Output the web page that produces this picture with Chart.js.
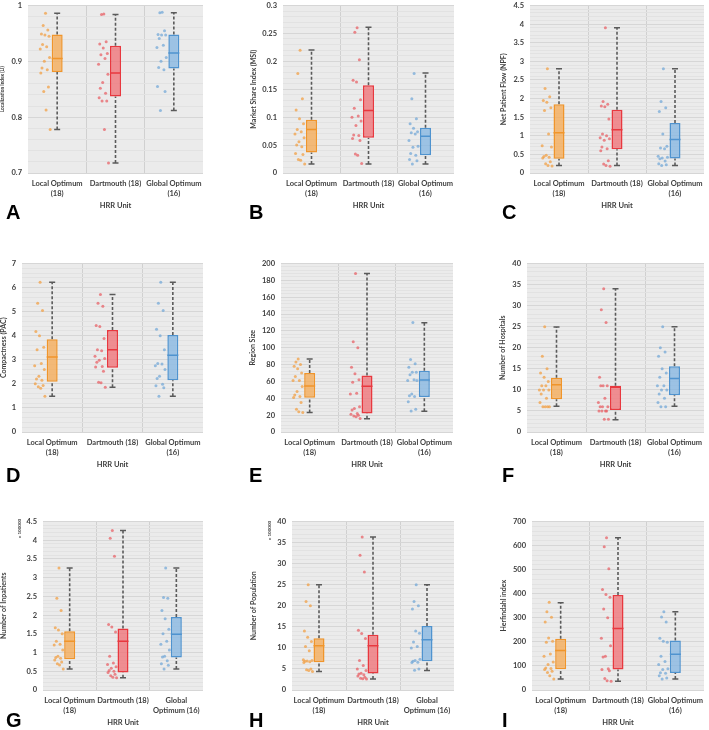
<!DOCTYPE html>
<html>
<head>
<meta charset="utf-8">
<script src="https://cdn.jsdelivr.net/npm/chart.js@4"></script>
<style>
body { margin:0; width:709px; height:730px; position:relative; overflow:hidden; background:#fff; }
canvas { position:absolute; }
.letter { position:absolute; font:bold 20px "Liberation Sans", Arial, sans-serif; line-height:1; color:#000; }
.unit { position:absolute; font:bold 4.5px Lato, sans-serif; color:#404040; white-space:nowrap; transform:rotate(-90deg); transform-origin:left top; line-height:1; }
</style>
</head>
<body>
<script>
// x categories
const LABELS = [['Local Optimum', '(18)'], 'Dartmouth (18)', ['Global Optimum', '(16)']];
const LABELS_NARROW = [['Local Optimum', '(18)'], 'Dartmouth (18)', ['Global', 'Optimum (16)']];

// box stats per category: [low whisker, q1, median, q3, high whisker]
const LI_BOXES = [[0.778, 0.881, 0.905, 0.948, 0.986], [0.718, 0.837, 0.879, 0.928, 0.984], [0.812, 0.887, 0.915, 0.948, 0.987]];
const LI_LOCAL = [0.986, 0.964, 0.956, 0.949, 0.947, 0.945, 0.930, 0.926, 0.922, 0.907, 0.900, 0.888, 0.885, 0.879, 0.854, 0.846, 0.813, 0.778];
const LI_DART = [0.985, 0.984, 0.935, 0.931, 0.924, 0.914, 0.912, 0.905, 0.895, 0.877, 0.862, 0.852, 0.843, 0.835, 0.829, 0.829, 0.778, 0.718];
const LI_GLOBAL = [0.988, 0.987, 0.955, 0.948, 0.947, 0.947, 0.941, 0.929, 0.925, 0.907, 0.900, 0.889, 0.885, 0.855, 0.846, 0.812];

const MSI_BOXES = [[0.016, 0.0365, 0.078, 0.0953, 0.2205], [0.016, 0.063, 0.112, 0.157, 0.261], [0.016, 0.032, 0.066, 0.081, 0.179]];
const MSI_LOCAL = [0.22, 0.178, 0.133, 0.113, 0.097, 0.088, 0.078, 0.074, 0.07, 0.063, 0.056, 0.05, 0.047, 0.035, 0.033, 0.024, 0.023, 0.016];
const MSI_DART = [0.26, 0.252, 0.203, 0.166, 0.163, 0.131, 0.116, 0.102, 0.1, 0.093, 0.085, 0.068, 0.067, 0.062, 0.058, 0.034, 0.032, 0.017];
const MSI_GLOBAL = [0.178, 0.133, 0.097, 0.088, 0.08, 0.074, 0.072, 0.07, 0.058, 0.048, 0.046, 0.035, 0.032, 0.024, 0.022, 0.016];

const NPF_BOXES = [[0.2, 0.38, 1.08, 1.85, 2.8], [0.2, 0.64, 1.16, 1.7, 3.9], [0.2, 0.39, 0.9, 1.34, 2.8]];
const NPF_LOCAL = [2.8, 2.27, 2.05, 1.95, 1.9, 1.75, 1.68, 1.05, 0.73, 0.7, 0.48, 0.44, 0.42, 0.4, 0.3, 0.25, 0.2, 0.19];
const NPF_DART = [3.9, 1.92, 1.85, 1.8, 1.78, 1.45, 1.05, 1.0, 0.95, 0.92, 0.88, 0.7, 0.65, 0.6, 0.33, 0.24, 0.2, 0.18];
const NPF_GLOBAL = [2.8, 1.92, 1.75, 1.65, 1.05, 0.72, 0.67, 0.65, 0.45, 0.42, 0.4, 0.38, 0.32, 0.25, 0.22, 0.2];

const PAC_BOXES = [[1.48, 2.09, 3.12, 3.85, 6.22], [1.86, 2.67, 3.42, 4.24, 5.71], [1.48, 2.15, 3.19, 4.03, 6.22]];
const PAC_LOCAL = [6.22, 5.35, 5.05, 4.18, 4.0, 3.52, 3.42, 2.85, 2.75, 2.6, 2.32, 2.2, 2.15, 2.0, 1.93, 1.88, 1.82, 1.48];
const PAC_DART = [5.71, 5.35, 5.22, 4.42, 4.38, 3.88, 3.42, 3.38, 3.15, 3.05, 2.98, 2.9, 2.72, 2.7, 2.52, 2.07, 2.05, 1.86];
const PAC_GLOBAL = [6.22, 5.35, 5.05, 4.27, 4.0, 3.42, 2.85, 2.82, 2.75, 2.6, 2.32, 2.22, 1.98, 1.92, 1.84, 1.48];

const SIZE_BOXES = [[23, 40.6, 54.7, 70, 86.7], [15.6, 22, 54.3, 67, 188], [24.6, 41.4, 61.7, 72.7, 129.7]];
const SIZE_LOCAL = [86.7, 83, 80, 78, 75, 70, 66, 61, 61, 54, 48, 44, 42, 41, 35, 27, 24, 23];
const SIZE_DART = [188, 107, 100, 77, 69, 62, 59, 46, 45, 30, 28, 26, 22, 21, 20, 19, 18, 16];
const SIZE_GLOBAL = [130, 86, 81, 77, 71, 71, 68, 62, 61, 61, 45, 43, 42, 36, 27, 25];

const HOSP_BOXES = [[6.1, 7.8, 11.2, 12.9, 24.9], [2.9, 5.2, 10.6, 11, 34], [6.1, 8.7, 12.7, 15.6, 25]];
const HOSP_LOCAL = [25, 18, 15, 14, 13, 12, 11, 11, 10, 10, 10, 9, 8, 7, 6, 6, 6, 6];
const HOSP_DART = [34, 29, 26, 13, 11, 11, 11, 8, 7, 6, 6, 6, 5, 5, 5, 5, 3, 3];
const HOSP_GLOBAL = [25, 20, 19, 18, 15, 14, 13, 11, 11, 10, 10, 9, 8, 7, 6, 6];

const INP_BOXES = [[0.56, 0.82, 1.3, 1.57, 3.26], [0.33, 0.47, 1.3, 1.64, 4.26], [0.56, 0.87, 1.49, 1.95, 3.26]];
const INP_LOCAL = [3.26, 2.45, 2.12, 1.66, 1.6, 1.5, 1.3, 1.22, 1.2, 1.07, 0.9, 0.87, 0.85, 0.8, 0.75, 0.7, 0.67, 0.56];
const INP_DART = [4.26, 4.05, 3.57, 1.75, 1.68, 1.55, 0.9, 0.72, 0.68, 0.62, 0.58, 0.52, 0.5, 0.47, 0.42, 0.38, 0.34, 0.33];
const INP_GLOBAL = [3.26, 2.47, 2.45, 2.12, 1.9, 1.62, 1.5, 1.3, 1.22, 1.07, 0.9, 0.88, 0.78, 0.7, 0.66, 0.56];

const POP_BOXES = [[4.4, 6.6, 10.5, 12.3, 25], [2.6, 3.9, 10.5, 13.1, 36.3], [4.6, 6.8, 11.9, 15.2, 25]];
const POP_LOCAL = [25, 21, 20, 14, 12.5, 11.5, 10.3, 9.3, 7.2, 7, 6.9, 6.8, 6.7, 6.5, 5, 4.8, 4.6, 4.4];
const POP_DART = [36.3, 32, 28, 14.2, 13.4, 12.2, 7, 5.8, 5, 4.6, 4, 3.8, 3.6, 3.3, 3, 2.8, 2.7, 2.6];
const POP_GLOBAL = [25, 21, 20, 19.2, 14, 13.5, 11.4, 10.3, 10, 7.3, 7, 6.8, 6.6, 6.5, 5, 4.7];

const HHI_BOXES = [[46, 86, 164, 213, 362], [36, 85, 256, 395, 633], [46, 71, 148, 206, 325]];
const HHI_LOCAL = [365, 325, 302, 283, 216, 203, 198, 150, 140, 116, 106, 91, 89, 85, 78, 73, 59, 46];
const HHI_DART = [633, 595, 504, 418, 397, 385, 337, 300, 215, 184, 140, 137, 88, 85, 80, 48, 38, 36];
const HHI_GLOBAL = [325, 303, 283, 215, 203, 198, 140, 118, 106, 88, 85, 72, 70, 59, 50, 46];

// fixed horizontal spread of the dots left of each box (category units)
const JITTER = [-0.2, -0.24, -0.16, -0.27, -0.21, -0.14, -0.25, -0.18, -0.29, -0.13, -0.22, -0.26, -0.17, -0.28, -0.15, -0.23, -0.19, -0.12];

const LINE = ['#f0952b', '#e8383f', '#4f93cf'];
const FILL = ['rgba(245,168,80,0.75)', 'rgba(240,110,115,0.75)', 'rgba(130,180,225,0.75)'];
const DOT = ['rgba(242,160,70,0.75)', 'rgba(232,90,96,0.7)', 'rgba(110,165,215,0.7)'];
const TEXT = '#404040';
const FONT = 'Lato, sans-serif';

const PANELS = [
    { letter: 'A', title: 'Localization Index (LI)', titleSize: 4.8, boxes: LI_BOXES, pts: [LI_LOCAL, LI_DART, LI_GLOBAL], min: 0.7, max: 1, step: 0.1, labels: LABELS,
      left: 0, plotLeft: 28, plotRight: 207, plotTop: 3, plotBottom: 173, lx: 6, ly: 205 },
    { letter: 'B', title: 'Market Share Index (MSI)', titleSize: 7, boxes: MSI_BOXES, pts: [MSI_LOCAL, MSI_DART, MSI_GLOBAL], min: 0, max: 0.3, step: 0.05, labels: LABELS,
      left: 250, plotLeft: 283, plotRight: 458, plotTop: 3, plotBottom: 173, lx: 249, ly: 205 },
    { letter: 'C', title: 'Net Patient Flow (NPF)', titleSize: 7, boxes: NPF_BOXES, pts: [NPF_LOCAL, NPF_DART, NPF_GLOBAL], min: 0, max: 4.5, step: 0.5, labels: LABELS,
      left: 500, plotLeft: 530, plotRight: 708, plotTop: 3, plotBottom: 173, lx: 502, ly: 205 },
    { letter: 'D', title: 'Compactness (PAC)', titleSize: 7, boxes: PAC_BOXES, pts: [PAC_LOCAL, PAC_DART, PAC_GLOBAL], min: 0, max: 7, step: 1, labels: LABELS,
      left: 0, plotLeft: 22, plotRight: 207, plotTop: 261, plotBottom: 432, lx: 6, ly: 468 },
    { letter: 'E', title: 'Region Size', titleSize: 7, boxes: SIZE_BOXES, pts: [SIZE_LOCAL, SIZE_DART, SIZE_GLOBAL], min: 0, max: 200, step: 20, labels: LABELS,
      left: 249, plotLeft: 281, plotRight: 457, plotTop: 261, plotBottom: 432, lx: 249, ly: 468 },
    { letter: 'F', title: 'Number of Hospitals', titleSize: 7, boxes: HOSP_BOXES, pts: [HOSP_LOCAL, HOSP_DART, HOSP_GLOBAL], min: 0, max: 40, step: 5, labels: LABELS,
      left: 499, plotLeft: 527, plotRight: 708, plotTop: 261, plotBottom: 432, lx: 502, ly: 468 },
    { letter: 'G', title: 'Number of Inpatients', titleSize: 7, boxes: INP_BOXES, pts: [INP_LOCAL, INP_DART, INP_GLOBAL], min: 0, max: 4.5, step: 0.5, labels: LABELS_NARROW,
      left: 0, plotLeft: 43, plotRight: 207, plotTop: 519, plotBottom: 690, lx: 6, ly: 713, unit: [18, 538] },
    { letter: 'H', title: 'Number of Population', titleSize: 7, boxes: POP_BOXES, pts: [POP_LOCAL, POP_DART, POP_GLOBAL], min: 0, max: 40, step: 5, labels: LABELS_NARROW,
      left: 250, plotLeft: 292, plotRight: 458, plotTop: 519, plotBottom: 690, lx: 249, ly: 713, unit: [268, 540] },
    { letter: 'I', title: 'Herfindahl index', titleSize: 7, boxes: HHI_BOXES, pts: [HHI_LOCAL, HHI_DART, HHI_GLOBAL], min: 0, max: 700, step: 100, labels: LABELS,
      left: 500, plotLeft: 532, plotRight: 708, plotTop: 519, plotBottom: 690, lx: 502, ly: 713 }
];

const TOP_PAD = 8, RIGHT_PAD = 3, X_AXIS_H = 37, MINOR = 5;

const plotBg = {
    id: 'plotBg',
    beforeDraw(chart) {
        const { ctx, chartArea: a } = chart;
        ctx.save();
        ctx.fillStyle = '#ebebeb';
        ctx.fillRect(a.left, a.top, a.width, a.height);
        ctx.restore();
    }
};

function isMajor(v, step) {
    const k = v / step;
    return Math.abs(k - Math.round(k)) < 1e-6;
}

function drawPanel(p) {
    const canvas = document.createElement('canvas');
    const w = p.plotRight + RIGHT_PAD - p.left;
    const h = TOP_PAD + (p.plotBottom - p.plotTop) + X_AXIS_H;
    canvas.width = w;
    canvas.height = h;
    canvas.style.left = p.left + 'px';
    canvas.style.top = (p.plotTop - TOP_PAD) + 'px';
    canvas.style.width = w + 'px';
    canvas.style.height = h + 'px';
    document.body.appendChild(canvas);

    const yWidth = p.plotLeft - p.left;
    const minorStep = p.step / MINOR;
    const nTicks = Math.round((p.max - p.min) / minorStep);
    const yTicks = [];
    for (let k = 0; k <= nTicks; k++) yTicks.push(+(p.min + k * minorStep).toFixed(6));

    const whiskers = [], caps = [];
    p.boxes.forEach((b, i) => {
        whiskers.push({ x: i, y: b[0] }, { x: i, y: b[1] }, { x: i, y: null },
                      { x: i, y: b[3] }, { x: i, y: b[4] }, { x: i, y: null });
        caps.push({ x: i, y: b[0] }, { x: i, y: b[4] });
    });

    const datasets = [
        { type: 'line', xAxisID: 'xj', data: whiskers, borderColor: '#5a5a5a', borderWidth: 1.6,
          borderDash: [3, 2], pointRadius: 0, spanGaps: false, order: 4 },
        { type: 'bar', xAxisID: 'x', data: p.boxes.map(b => [b[1], b[3]]), backgroundColor: FILL,
          borderColor: LINE, borderWidth: 1.5, borderSkipped: false, grouped: false,
          maxBarThickness: 11, order: 3 },
        { type: 'scatter', xAxisID: 'xj', data: caps, pointStyle: 'line', pointRadius: 3,
          pointBorderColor: '#5a5a5a', pointBorderWidth: 1.5, order: 2 },
        { type: 'scatter', xAxisID: 'xj', data: p.boxes.map((b, i) => ({ x: i, y: b[2] })), pointStyle: 'line',
          pointRadius: 5.5, pointBorderColor: LINE, pointBorderWidth: 1.5, order: 0 }
    ];
    p.pts.forEach((vals, i) => {
        datasets.push({
            type: 'scatter', xAxisID: 'xj',
            data: vals.map((v, j) => ({ x: i + JITTER[j], y: v })),
            pointRadius: 1.5, pointBackgroundColor: DOT[i], pointBorderWidth: 0, order: 1
        });
    });

    new Chart(canvas, {
        type: 'bar',
        data: { labels: p.labels, datasets },
        options: {
            responsive: false,
            animation: false,
            devicePixelRatio: 1,
            layout: { padding: { top: TOP_PAD, right: RIGHT_PAD, left: 0, bottom: 0 } },
            plugins: { legend: { display: false }, tooltip: { enabled: false } },
            scales: {
                x: {
                    type: 'category', offset: true,
                    grid: { offset: true, drawTicks: false,
                            color: ctx => (ctx.index === 1 || ctx.index === 2) ? '#d0d0d0' : 'rgba(0,0,0,0)' },
                    border: { display: false },
                    ticks: { color: TEXT, font: { family: FONT, weight: 'bold', size: 7.5, lineHeight: 1.33 },
                             padding: 6, maxRotation: 0, minRotation: 0, autoSkip: false },
                    title: { display: true, text: 'HRR Unit', color: TEXT, padding: 0,
                             font: { family: FONT, weight: 'bold', size: 7.5 } },
                    afterFit: s => { s.height = X_AXIS_H; }
                },
                xj: { type: 'linear', min: -0.5, max: 2.5, offset: false, grid: { offset: false }, display: false },
                y: {
                    min: p.min, max: p.max,
                    afterBuildTicks: s => { s.ticks = yTicks.map(v => ({ value: v })); },
                    grid: { drawTicks: false,
                            color: ctx => isMajor(ctx.tick.value - p.min, p.step) ? '#d6d6d6' : '#e2e2e2' },
                    border: { display: false },
                    ticks: { color: TEXT, font: { family: FONT, weight: 'bold', size: 7.5 }, padding: 6, autoSkip: false,
                             callback: v => isMajor(v - p.min, p.step) ? String(+v.toFixed(4)) : '' },
                    title: { display: true, text: p.title, color: TEXT, padding: 0,
                             font: { family: FONT, weight: 'bold', size: p.titleSize } },
                    afterFit: s => { s.width = yWidth; }
                }
            }
        },
        plugins: [plotBg]
    });

    const letter = document.createElement('div');
    letter.className = 'letter';
    letter.textContent = p.letter;
    letter.style.left = p.lx + 'px';
    letter.style.top = (p.ly - 3) + 'px';
    document.body.appendChild(letter);

    if (p.unit) {
        const u = document.createElement('div');
        u.className = 'unit';
        u.textContent = 'x 100000';
        u.style.left = p.unit[0] + 'px';
        u.style.top = p.unit[1] + 'px';
        document.body.appendChild(u);
    }
}

PANELS.forEach(drawPanel);
</script>
</body>
</html>
